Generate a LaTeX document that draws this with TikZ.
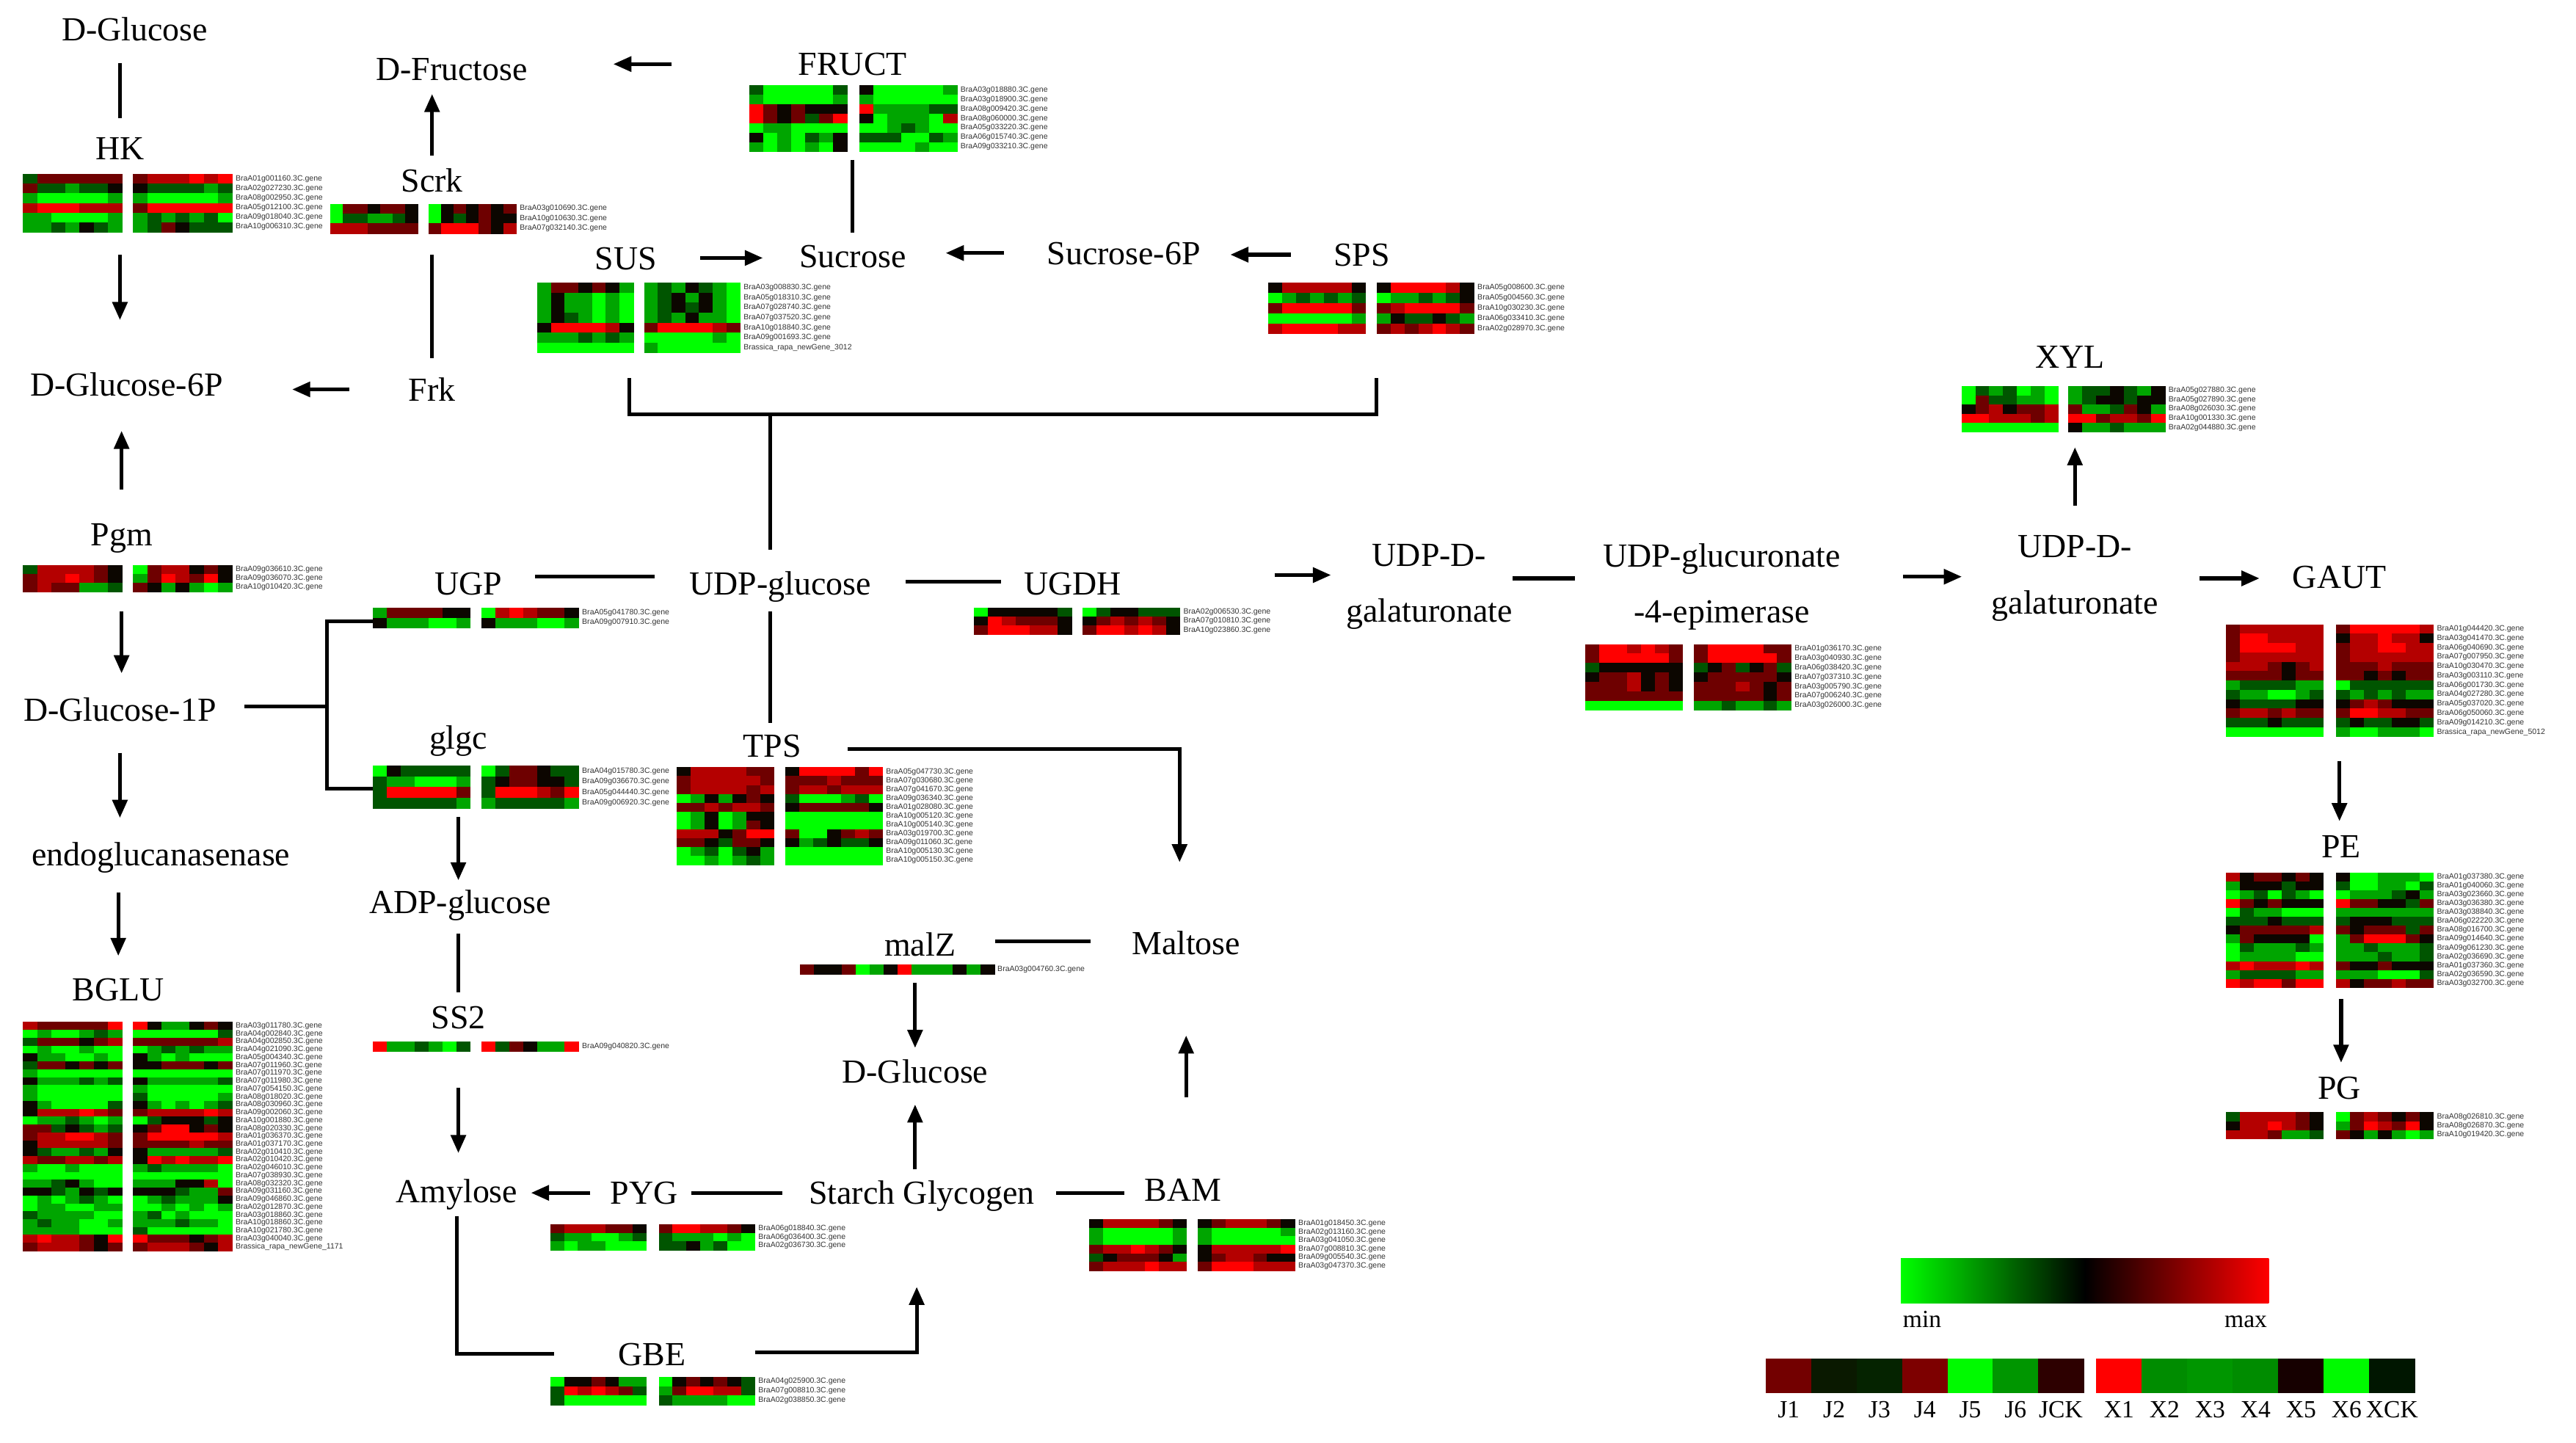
\documentclass[tikz,border=0pt]{standalone}
\usepackage{fontspec}
\setmainfont{Liberation Serif}
\newfontfamily\genefont{Liberation Sans}
\usetikzlibrary{arrows.meta}
\definecolor{hmG}{RGB}{0,255,0}
\definecolor{hmg}{RGB}{0,165,0}
\definecolor{hmd}{RGB}{0,85,0}
\definecolor{hmk}{RGB}{12,6,0}
\definecolor{hmm}{RGB}{110,0,0}
\definecolor{hmr}{RGB}{180,0,0}
\definecolor{hmR}{RGB}{255,0,0}
\definecolor{lJa}{RGB}{115,0,0}
\definecolor{lJb}{RGB}{10,25,0}
\definecolor{lJc}{RGB}{5,35,0}
\definecolor{lJd}{RGB}{125,0,0}
\definecolor{lJe}{RGB}{0,250,0}
\definecolor{lJf}{RGB}{0,150,0}
\definecolor{lJg}{RGB}{45,0,0}
\definecolor{lXa}{RGB}{255,0,0}
\definecolor{lXb}{RGB}{0,140,0}
\definecolor{lXc}{RGB}{0,150,0}
\definecolor{lXd}{RGB}{0,140,0}
\definecolor{lXe}{RGB}{22,0,0}
\definecolor{lXf}{RGB}{0,250,0}
\definecolor{lXg}{RGB}{0,22,0}
\newcount\hmc
\def\hmcell#1{%
  \ifx#1\relax
  \else
    \fill[hm#1] (\hmX+\the\hmc*\hmW,\hmY) rectangle ++(\hmW+0.3,\hmH+0.3);%
    \global\advance\hmc by 1\relax
    \expandafter\hmcell
  \fi}
\newcommand\hmblock[5]{%
  \def\hmX{#1}\def\hmW{#3}\def\hmH{#4}%
  \foreach \hmrow [count=\hmi from 0] in {#5}{%
    \pgfmathsetmacro\hmY{#2+\hmi*#4}%
    \global\hmc=0\relax
    \expandafter\hmcell\hmrow\relax}}
\newcommand\hmpair[9]{%
  \hmblock{#1}{#2}{#3}{#4}{#6}%
  \hmblock{#1+#5}{#2}{#3}{#4}{#7}%
  \pgfmathsetmacro\hmL{#1+#5+7*#3+2}%
  \foreach \hmlab [count=\hmi from 0] in {#8}{%
    \node[genelab] (#9\hmi) at (\hmL,#2+\hmi*#4+0.5*#4) {\hmlab};}}
\tikzset{
  lab/.style={font=\fontsize{20.5}{24}\selectfont, inner sep=0pt, text height=14pt, text depth=0pt},
  labtwo/.style={font=\fontsize{20.5}{34}\selectfont, inner sep=0pt, align=center},
  ln/.style={line width=2.3pt},
  arr/.style={line width=2.3pt, -{Triangle[length=11pt,width=9pt]}},
  genelab/.style={font=\genefont\fontsize{4.7}{5}\selectfont, inner sep=0pt, anchor=west, text=black!80},
  leglab/.style={font=\fontsize{15}{18}\selectfont, inner sep=0pt, text height=10pt, text depth=0pt}
}
\begin{document}
\begin{tikzpicture}[x=1pt,y=-1pt]
\useasboundingbox (0,0) rectangle (1568,878);
\fill[white] (0,0) rectangle (1568,878);

% ---------- text nodes ----------
\node[lab] (dglc) at (82,18) {D-Glucose};
\node[lab] (dfru) at (275,42) {D-Fructose};
\node[lab] (fruct) at (519,39) {FRUCT};
\node[lab] (hk) at (73,90) {HK};
\node[lab] (scrk) at (263,110) {Scrk};
\node[lab] (sus) at (381,157) {SUS};
\node[lab] (sucrose) at (519,156) {Sucrose};
\node[lab] (suc6p) at (684,154) {Sucrose-6P};
\node[lab] (sps) at (829,155) {SPS};
\node[lab] (dg6p) at (77,234) {D-Glucose-6P};
\node[lab] (frk) at (263,237) {Frk};
\node[lab] (xyl) at (1260,217) {XYL};
\node[lab] (pgm) at (74,325) {Pgm};
\node[lab] (ugp) at (285,355) {UGP};
\node[lab] (udpg) at (475,355) {UDP-glucose};
\node[lab] (ugdh) at (653,355) {UGDH};
\node[labtwo] (udpd1) at (870,357) {UDP-D-\\galaturonate};
\node[labtwo] (epi) at (1048,357) {UDP-glucuronate\\-4-epimerase};
\node[labtwo] (udpd2) at (1263,352) {UDP-D-\\galaturonate};
\node[lab] (gaut) at (1424,351) {GAUT};
\node[lab] (dg1p) at (73,432) {D-Glucose-1P};
\node[lab] (glgc) at (279,449) {glgc};
\node[lab] (tps) at (470,454) {TPS};
\node[lab] (endo) at (98,520) {endoglucanasenase};
\node[lab] (pe) at (1425,515) {PE};
\node[lab] (adpg) at (280,549) {ADP-glucose};
\node[lab] (malz) at (560,575) {malZ};
\node[lab] (maltose) at (722,574) {Maltose};
\node[lab] (bglu) at (72,602) {BGLU};
\node[lab] (ss2) at (279,619) {SS2};
\node[lab] (dglc2) at (557,652) {D-Glucose};
\node[lab] (pg) at (1424,662) {PG};
\node[lab] (amylose) at (278,725) {Amylose};
\node[lab] (pyg) at (392,726) {PYG};
\node[lab] (starch) at (561,726) {Starch Glycogen};
\node[lab] (bam) at (720,724) {BAM};
\node[lab] (gbe) at (397,824) {GBE};

% ---------- connectors ----------
\draw[ln, shorten <=13pt, shorten >=11pt] (hk.north |- dglc.south) -- (hk.north);
\draw[arr, shorten <=58pt, shorten >=32pt] (hk.south) -- (hk.south |- dg6p.north);
\draw[arr, shorten <=36pt, shorten >=42pt] (frk.west) -- (frk.west -| dg6p.east);
\draw[ln, shorten <=12pt, shorten >=38pt] (frk.north) -- (frk.north |- scrk.south);
\draw[arr, shorten <=8pt, shorten >=8pt] (scrk.north) -- (scrk.north |- dfru.south);
\draw[arr, shorten <=77pt, shorten >=52pt] (fruct.west) -- (fruct.west -| dfru.east);
\draw[ln, shorten <=51pt, shorten >=7pt] (fruct.south) -- (fruct.south |- sucrose.north);
\draw[arr, shorten <=26pt, shorten >=22pt] (sus.east) -- (sus.east -| sucrose.west);
\draw[arr, shorten <=26pt, shorten >=24pt] (suc6p.west) -- (suc6p.west -| sucrose.east);
\draw[arr, shorten <=26pt, shorten >=18pt] (sps.west) -- (sps.west -| suc6p.east);
\draw[ln] ([xshift=2pt,yshift=-66pt]sus.south) |- ([xshift=9pt,yshift=-90pt]sps.south) -- ([xshift=9pt,yshift=-68pt]sps.south);
\draw[ln] ([xshift=-6pt,yshift=13pt]udpg.north) -- ([xshift=-6pt,yshift=96pt]udpg.north);
\draw[ln, shorten <=10pt, shorten >=7pt] ([xshift=-6pt]udpg.south) -- ([xshift=-1pt]tps.north);
\draw[ln, shorten <=20pt, shorten >=21pt] ([yshift=4pt]ugp.east) -- ([yshift=4pt]udpg.west);
\draw[ln, shorten <=21pt, shorten >=14pt] ([yshift=1pt]udpg.east) -- ([yshift=1pt]ugdh.west);
\draw[arr, shorten <=93pt, shorten >=9pt] ([yshift=5pt]ugdh.east) -- ([yshift=7pt]udpd1.west);
\draw[ln, shorten >=17pt] ([yshift=5pt]udpd1.east) -- ([yshift=5pt]epi.west);
\draw[arr, shorten <=38pt, shorten >=18pt] ([yshift=6pt]epi.east) -- ([yshift=1pt]udpd2.west);
\draw[arr, shorten <=18pt, shorten >=48pt] (udpd2.north) -- (udpd2.north |- xyl.south);
\draw[arr, shorten <=25pt, shorten >=20pt] (udpd2.east) -- ([yshift=-1pt]gaut.west);
\draw[arr, shorten <=105pt, shorten >=8pt] (gaut.south) -- (gaut.south |- pe.north);
\draw[arr, shorten <=86pt, shorten >=8pt] (pe.south) -- (pe.south |- pg.north);
\draw[arr, shorten <=20pt, shorten >=21pt] (pgm.north) -- (pgm.north |- dg6p.south);
\draw[arr, shorten <=40pt, shorten >=15pt] (pgm.south) -- (pgm.south |- dg1p.north);
\draw[arr, shorten <=19pt, shorten >=15pt] (dg1p.south) -- (dg1p.south |- endo.north);
\draw[arr, shorten <=16pt, shorten >=13pt] (bglu.north |- endo.south) -- (bglu.north);
\draw[ln] ([xshift=17pt,yshift=2pt]dg1p.east) -| ++(50,-52) -- ++(28,0);
\draw[ln] ([xshift=17pt,yshift=2pt]dg1p.east) -| ++(50,50) -- ++(28,0);
\draw[arr, shorten <=41pt, shorten >=6pt] (glgc.south) -- (glgc.south |- adpg.north);
\draw[ln, shorten <=12pt, shorten >=8pt] (ss2.north |- adpg.south) -- (ss2.north);
\draw[arr, shorten <=36pt, shorten >=16pt] (ss2.south) -- (ss2.south |- amylose.north);
\draw[arr, shorten <=12pt, shorten >=8pt] (pyg.west) -- (pyg.west -| amylose.east);
\draw[ln, shorten <=8pt, shorten >=16pt] (pyg.east) -- (pyg.east -| starch.west);
\draw[ln, shorten <=13pt, shorten >=12pt] (starch.east) -- (starch.east -| bam.west);
\draw[arr, shorten <=7pt, shorten >=13pt] (dglc2.south |- starch.north) -- (dglc2.south);
\draw[arr, shorten <=16pt, shorten >=7pt] (dglc2.north |- malz.south) -- (dglc2.north);
\draw[ln, shorten <=24pt, shorten >=25pt] ([yshift=2pt]malz.east) -- ([yshift=1pt]maltose.west);
\draw[arr, shorten <=49pt, shorten >=49pt] (maltose.south |- bam.north) -- (maltose.south);
\draw[arr] ([xshift=28pt,yshift=-2pt]tps.east) -| ([xshift=-4pt,yshift=42pt]maltose.north);
\draw[ln] ([yshift=-8pt]amylose.south) |- ([xshift=-39pt]gbe.west);
\draw[arr] ([xshift=42pt,yshift=1pt]gbe.east) -| ([xshift=-3pt,yshift=-50pt]starch.south);

% ---------- heatmaps ----------
\hmpair{14}{106}{8.6}{5.85}{67}%
 {dmmmmmm,mddgddk,gGGGGGg,rRRRrrr,ggGGGGg,ggdgkdg}%
 {mrrrRrR,kddddgd,gGGGGGg,mRRRRRR,gdgdgdG,gdmkddd}%
 {BraA01g001160.3C.gene,BraA02g027230.3C.gene,BraA08g002950.3C.gene,BraA05g012100.3C.gene,BraA09g018040.3C.gene,BraA10g006310.3C.gene}{hkg}
\hmpair{201}{124}{7.6}{6}{60}%
 {Gmmkmmk,Gddggdk,rrrmmmm}%
 {Gkmkmkm,Gkdkmkk,mRRRmkr}%
 {BraA03g010690.3C.gene,BraA10g010630.3C.gene,BraA07g032140.3C.gene}{scg}
\hmpair{456}{52}{8.5}{5.75}{67}%
 {dGGGGGd,gGGGGGg,Rmkmkkk,RmkmdmR,GggGGGG,kGgGdgk,gGgGgGk}%
 {kGGGGGg,gGGGGGG,Rggggdd,kGgggGr,GGgdgGG,dddGGdg,GGGGgGG}%
 {BraA03g018880.3C.gene,BraA03g018900.3C.gene,BraA08g009420.3C.gene,BraA08g060000.3C.gene,BraA05g033220.3C.gene,BraA06g015740.3C.gene,BraA09g033210.3C.gene}{frg}
\hmpair{327}{172}{8.35}{6.1}{65}%
 {gmmkmkg,gkggGgG,gkggGgG,gkdgGgG,kRRRRrk,gggdgdg,GGGGGGG}%
 {gdgkdgG,gdkgkgG,gdkdkgG,gdgkggG,mRRRRrm,GGGGGgG,gGGGGGG}%
 {BraA03g008830.3C.gene,BraA05g018310.3C.gene,BraA07g028740.3C.gene,BraA07g037520.3C.gene,BraA10g018840.3C.gene,BraA09g001693.3C.gene,Brassica\_rapa\_newGene\_3012}{sug}
\hmpair{772}{172}{8.45}{6.2}{66}%
 {krrrrrk,Ggdgdgd,mRRRRRm,GGGGGGg,rRRRRrr}%
 {kRRRRrk,Gggdgdk,mrRRRRm,gkddkdg,mrmrRrm}%
 {BraA05g008600.3C.gene,BraA05g004560.3C.gene,BraA10g030230.3C.gene,BraA06g033410.3C.gene,BraA02g028970.3C.gene}{spg}
\hmpair{14}{344}{8.6}{5.4}{67}%
 {drrrrmk,mrrRrmk,mrmmggd}%
 {Gmrrkmk,gmRrmRk,mkgkgGg}%
 {BraA09g036610.3C.gene,BraA09g036070.3C.gene,BraA10g010420.3C.gene}{pgg}
\hmpair{227}{370}{8.45}{6}{66}%
 {gmmmmkk,kgggGGg}%
 {GrRrmmk,kgggGGg}%
 {BraA05g041780.3C.gene,BraA09g007910.3C.gene}{ugg}
\hmpair{593}{370}{8.45}{5.4}{66}%
 {Gkkkkkd,kRrmmmk,mRRRrrk}%
 {Gdkkddd,kmrmrmk,mRRrRrk}%
 {BraA02g006530.3C.gene,BraA07g010810.3C.gene,BraA10g023860.3C.gene}{udg}
\hmpair{1194}{235}{8.4}{5.6}{65}%
 {GdgdGgG,GmddggG,kmrkmmr,RRrrrmr,GGGGGGG}%
 {gddkdgk,gdkkdkk,mggdmkg,RRmrrmR,kggdggg}%
 {BraA05g027880.3C.gene,BraA05g027890.3C.gene,BraA08g026030.3C.gene,BraA10g001330.3C.gene,BraA02g044880.3C.gene}{xyg}
\hmpair{965}{392}{8.45}{5.75}{66}%
 {mRRrRrm,mRRRRRm,dkkkkkk,kmmrkmk,mmmrkmk,mmmmmmm,GGGGGGG}%
 {mRRRRmm,mRRRRRm,dkmdkmd,kmmmmmk,mmmrmkm,mmmmmkm,ggdggdg}%
 {BraA01g036170.3C.gene,BraA03g040930.3C.gene,BraA06g038420.3C.gene,BraA07g037310.3C.gene,BraA03g005790.3C.gene,BraA07g006240.3C.gene,BraA03g026000.3C.gene}{epg}
\hmpair{1355}{380}{8.45}{5.7}{67}%
 {mrrrrrr,mRRrrrr,mRRRRrr,mrrrrrr,rrrmkmr,mmmmkmm,gddddgg,dggGGgd,kddddkk,mrrmrmm,dddkddd,GGGGGGG}%
 {mRRRRRr,krrRrrk,mrrRRrr,mrrrrrr,mmmrmmm,mmkmkmm,Gdddddd,dgdgdgg,kmrmkkk,mRRrrmm,dkddkkd,gGGgggG}%
 {BraA01g044420.3C.gene,BraA03g041470.3C.gene,BraA06g040690.3C.gene,BraA07g007950.3C.gene,BraA10g030470.3C.gene,BraA03g003110.3C.gene,BraA06g001730.3C.gene,BraA04g027280.3C.gene,BraA05g037020.3C.gene,BraA06g050060.3C.gene,BraA09g014210.3C.gene,Brassica\_rapa\_newGene\_5012}{gag}
\hmpair{1355}{531}{8.45}{5.4}{67}%
 {rkmmkmk,gkkkdkk,GgdGdgG,Rmkmkkk,GdggGGG,dddkddd,kmmmmmr,gmkkkkG,Gdgggdg,GggggGG,rRrrrRr,gddddgg,RrRRmRR}%
 {kGGgggG,dGGggGd,Ggggdkg,Rmmkkdm,ggggggg,dkkkddd,mkmmmdm,gmRRRmk,ggdgggd,gggdggd,mkkmkkk,gggGGGd,rkmmrmm}%
 {BraA01g037380.3C.gene,BraA01g040060.3C.gene,BraA03g023660.3C.gene,BraA03g036380.3C.gene,BraA03g038840.3C.gene,BraA06g022220.3C.gene,BraA08g016700.3C.gene,BraA09g014640.3C.gene,BraA09g061230.3C.gene,BraA02g036690.3C.gene,BraA01g037360.3C.gene,BraA02g036590.3C.gene,BraA03g032700.3C.gene}{peg}
\hmpair{1355}{677}{8.45}{5.4}{67}%
 {drrrrmk,krrRrmk,rrrmggd}%
 {Gmrmkmk,gmRrmRk,mkgkgGg}%
 {BraA08g026810.3C.gene,BraA08g026870.3C.gene,BraA10g019420.3C.gene}{pgh}
\hmpair{227}{466}{8.45}{6.5}{66}%
 {Gkddddd,dggGGGg,dRRRRRm,ddddddg}%
 {Gdmmkdd,dkmmkkd,dRRRrmR,gdddddg}%
 {BraA04g015780.3C.gene,BraA09g036670.3C.gene,BraA05g044440.3C.gene,BraA09g006920.3C.gene}{glg}
\hmpair{412}{467}{8.45}{5.4}{66}%
 {krrrrmm,mrrrrrm,mrrrrmr,Ggkgkmk,mmrmrrm,GgkGgkk,GgkGgmk,rrrkmRR,mmkdmmk,GgdGdkg,GGgGgdg}%
 {kRRRRmR,mmmrmmm,mrrmrrr,dGGGgdG,kmmmmmk,GGGGGGG,GGGGGGG,mGGkmrm,kgdkddk,GGGGGGG,GGGGGGG}%
 {BraA05g047730.3C.gene,BraA07g030680.3C.gene,BraA07g041670.3C.gene,BraA09g036340.3C.gene,BraA01g028080.3C.gene,BraA10g005120.3C.gene,BraA10g005140.3C.gene,BraA03g019700.3C.gene,BraA09g011060.3C.gene,BraA10g005130.3C.gene,BraA10g005150.3C.gene}{tpg}
\hmpair{14}{622}{8.6}{4.8}{67}%
 {rmmmmmR,GgGGgdg,dmmmkmr,GgGGgGG,kggGGgG,dmmkmkm,gGGGGGG,kgggdgd,gGGGGGG,gGGGGGG,kgGGGGd,krrrRrm,GggdgGg,mmdkdgd,mrrRRrm,krrrrrm,kdggdgk,rmmrrmr,gGGgGGG,GGGGGGG,ggdkgGG,kkdgkdk,GgGgdgG,GggGGgg,dggggGG,gdggGGg,ggggGGG,rRrrmkR,mrrrmkm}%
 {Rkggkmk,GGGGGGd,mmmmmmr,Ggdgdgg,kgGgGGG,kkmmmkm,GGGGGGG,kgggggd,gGGGGGG,dGGGGGg,kgGgGgd,mrrrrRr,Gdkkkdk,kmRRkmk,mRRRRRr,mmmmrmm,kgggggd,kRrRrrR,gdggggG,GGGGGGG,gggkkrG,kkkdggm,Ggdgggk,GGgGgGg,gdGgGGG,gggdggG,dGGGGGG,Rmmmkmr,mrrrmkr}%
 {BraA03g011780.3C.gene,BraA04g002840.3C.gene,BraA04g002850.3C.gene,BraA04g021090.3C.gene,BraA05g004340.3C.gene,BraA07g011960.3C.gene,BraA07g011970.3C.gene,BraA07g011980.3C.gene,BraA07g054150.3C.gene,BraA08g018020.3C.gene,BraA08g030960.3C.gene,BraA09g002060.3C.gene,BraA10g001880.3C.gene,BraA08g020330.3C.gene,BraA01g036370.3C.gene,BraA01g037170.3C.gene,BraA02g010410.3C.gene,BraA02g010420.3C.gene,BraA02g046010.3C.gene,BraA07g038930.3C.gene,BraA08g032320.3C.gene,BraA09g031160.3C.gene,BraA09g046860.3C.gene,BraA02g012870.3C.gene,BraA03g018860.3C.gene,BraA10g018860.3C.gene,BraA10g021780.3C.gene,BraA03g040040.3C.gene,Brassica\_rapa\_newGene\_1171}{bgg}
\hmpair{227}{634}{8.45}{6}{66}%
 {RggdgGd}{RdmkggR}{BraA09g040820.3C.gene}{ssg}
\hmpair{335}{745}{8.35}{5.3}{66}%
 {mrrrmmk,dggGGgd,gGggGGG}%
 {mRRrrmk,dgggGgG,ddkgdGG}%
 {BraA06g018840.3C.gene,BraA06g036400.3C.gene,BraA02g036730.3C.gene}{pyh}
\hmpair{663}{742}{8.45}{5.2}{66}%
 {krrrrmk,gGGGGGg,gGGGGGg,mrrRrmk,dkmmmkg,mrrrRrr}%
 {kmrrrmk,gGGGGGg,gGGGGGG,krrrrrR,kmrrmkk,mRRRrrr}%
 {BraA01g018450.3C.gene,BraA02g013160.3C.gene,BraA03g041050.3C.gene,BraA07g008810.3C.gene,BraA09g005540.3C.gene,BraA03g047370.3C.gene}{bag}
\hmpair{335}{838}{8.35}{5.7}{66}%
 {Gkkmkgg,dRrRrmd,dGGGGGG}%
 {Gkmkmkd,gmRRrrd,dggggGG}%
 {BraA04g025900.3C.gene,BraA07g008810.3C.gene,BraA02g038850.3C.gene}{gbg}
% malZ strip
\hmblock{487}{587}{8.45}{6}{mkkmGgk}
\hmblock{546.2}{587}{8.45}{6}{Rgggkgk}
\node[genelab] (mzg0) at (607,590) {BraA03g004760.3C.gene};

% ---------- legend ----------
\shade[left color=hmG, right color=hmR, middle color=black] (1157,766) rectangle (1381,793);
\node[leglab] (lmin) at (1170,803) {min};
\node[leglab] (lmax) at (1367,803) {max};
\foreach \c [count=\k from 0] in {lJa,lJb,lJc,lJd,lJe,lJf,lJg}
  \fill[\c] (1075+\k*27.6,827) rectangle ++(27.9,21);
\foreach \c [count=\k from 0] in {lXa,lXb,lXc,lXd,lXe,lXf,lXg}
  \fill[\c] (1276+\k*27.7,827) rectangle ++(28,21);
\foreach \t [count=\k from 0] in {J1,J2,J3,J4,J5,J6,JCK}
  \node[leglab] (lj\k) at (1088.8+\k*27.6,858) {\t};
\foreach \t [count=\k from 0] in {X1,X2,X3,X4,X5,X6,XCK}
  \node[leglab] (lx\k) at (1289.8+\k*27.7,858) {\t};
\end{tikzpicture}
\end{document}
